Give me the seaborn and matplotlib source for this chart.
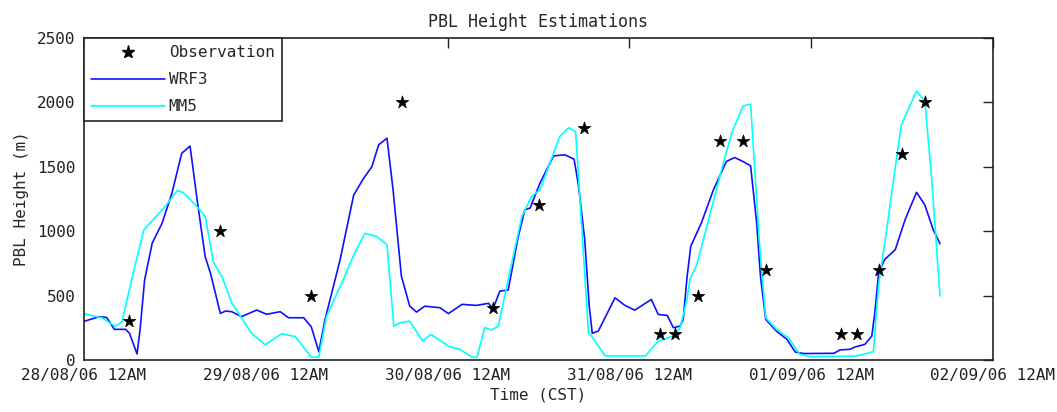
import matplotlib
matplotlib.use("Agg")
import matplotlib.pyplot as plt
import seaborn as sns
import pandas as pd
from matplotlib.lines import Line2D

# ---- data (hours since 28/08/06 00:00 CST) ----
obs_hours = [6, 18, 30, 42, 54, 60, 66, 76, 78, 81, 84, 87, 90, 100, 102, 105, 108, 111]
obs_vals = [300, 1000, 500, 2000, 400, 1200, 1800, 200, 200, 500, 1700, 1700, 700, 200, 200, 700, 1600, 2000]

wrf_hours = [0, 2, 3, 4, 5.5, 6, 7, 7.4, 8, 9, 10.3, 11.6, 12.9, 14, 15, 16, 16.7, 18, 18.7,
             19.5, 20.8, 22.8, 24.1, 25.9, 27, 29, 30, 31, 31.8, 33.8, 35.6, 36.9, 38, 38.9,
             40, 40.8, 41.9, 43, 43.9, 45, 47, 48.1, 49.9, 51.8, 53.4, 54, 54.9, 56, 57.3,
             58.2, 58.9, 60.2, 62, 63.5, 64.7, 65.3, 66.1, 66.7, 67.1, 67.9, 70.1, 71.4,
             72.7, 74.9, 75.8, 77, 77.8, 78.7, 79.1, 79.6, 80.1, 81.5, 83.1, 84.8, 85.9,
             87, 88, 88.8, 89.3, 90, 91.4, 92.8, 93.9, 95, 99, 99.8, 101.1, 101.8, 103.1,
             104, 104.4, 104.9, 105.7, 107.1, 108.4, 109.9, 111, 112.1, 113]
wrf_vals = [300, 336, 330, 238, 238, 207, 47, 233, 621, 906, 1061, 1294, 1605, 1661, 1216,
            802, 673, 362, 380, 375, 337, 388, 355, 375, 328, 328, 258, 64, 310, 776, 1280,
            1410, 1500, 1671, 1722, 1322, 651, 418, 372, 418, 406, 360, 432, 424, 440, 398,
            535, 543, 950, 1167, 1180, 1374, 1585, 1593, 1559, 1347, 935, 418, 207, 225,
            483, 424, 387, 470, 354, 346, 251, 263, 315, 638, 883, 1064, 1322, 1541, 1572,
            1541, 1508, 1064, 651, 315, 225, 160, 62, 50, 52, 78, 83, 101, 122, 186, 367,
            677, 780, 857, 1090, 1302, 1205, 1012, 903]

mm5_hours = [0, 2.4, 4.1, 5, 6.6, 7.9, 10.7, 12.3, 13.1, 14.7, 16, 17.1, 18.2, 19.5, 20.4,
             22.1, 23.9, 26.1, 27.9, 30, 31, 32, 34.2, 35.8, 37.1, 38.6, 40, 40.9, 41.7, 43,
             44.7, 45.8, 48.1, 49.6, 51.2, 51.9, 52.9, 53.8, 54.7, 56, 57.8, 59.1, 60.2,
             62.8, 64, 64.9, 66.6, 67, 68.8, 74.1, 75.8, 77.8, 78.7, 79.6, 80, 80.9, 84.4,
             85.5, 87, 88, 89.2, 90, 91.4, 93, 94.5, 95.8, 101.8, 102.9, 104.2, 104.9, 106,
             106.9, 107.9, 109.9, 111, 111.9, 113]
mm5_vals = [359, 327, 262, 294, 701, 1010, 1191, 1315, 1300, 1205, 1115, 754, 650, 444, 364,
            209, 118, 203, 182, 23, 23, 337, 620, 840, 983, 960, 896, 263, 289, 302, 147,
            199, 108, 83, 23, 23, 251, 233, 263, 625, 1115, 1270, 1322, 1735, 1804, 1773,
            212, 186, 31, 31, 147, 186, 251, 470, 625, 741, 1528, 1760, 1972, 1987, 883,
            328, 238, 173, 44, 26, 30, 44, 65, 583, 1025, 1413, 1825, 2089, 2011, 1413, 497]

tick_hours = [0, 24, 48, 72, 96, 120]
tick_labels = ["28/08/06 12AM", "29/08/06 12AM", "30/08/06 12AM",
               "31/08/06 12AM", "01/09/06 12AM", "02/09/06 12AM"]
y_ticks = [0, 500, 1000, 1500, 2000, 2500]

# ---- plot ----
sns.set_style("white")
plt.rcParams["font.family"] = ["DejaVu Sans Mono", "DejaVu Sans"]
plt.rcParams["font.size"] = 11.5

fig = plt.figure(figsize=(10.57, 4.12), dpi=100)
ax = fig.add_axes([84 / 1057, 1 - 360 / 412, (993 - 84) / 1057, (360 - 38) / 412])

obs_df = pd.DataFrame({"hour": obs_hours, "value": obs_vals})
wrf_df = pd.DataFrame({"hour": wrf_hours, "value": wrf_vals})
mm5_df = pd.DataFrame({"hour": mm5_hours, "value": mm5_vals})

blue = "#1010ff"
cyan = "#00ffff"

sns.lineplot(data=wrf_df, x="hour", y="value", ax=ax, color=blue, lw=1.2,
             estimator=None, sort=False, zorder=2)
sns.lineplot(data=mm5_df, x="hour", y="value", ax=ax, color=cyan, lw=1.2,
             estimator=None, sort=False, zorder=2)
sns.scatterplot(data=obs_df, x="hour", y="value", ax=ax, marker="*", s=90,
                color="black", edgecolor="black", linewidth=0.5, zorder=3)

ax.set_xlim(0, 120)
ax.set_ylim(0, 2500)
ax.set_xticks(tick_hours)
ax.set_xticklabels(tick_labels)
ax.set_yticks(y_ticks)
ax.tick_params(direction="in", length=7, width=1, top=True, right=True,
               labelsize=11.5, colors="#222222", pad=6)
for sp in ax.spines.values():
    sp.set_color("#222222")
    sp.set_linewidth(1.2)

ax.set_title("PBL Height Estimations", fontsize=12, pad=8)
ax.set_xlabel("Time (CST)", fontsize=11.5, labelpad=3)
ax.set_ylabel("PBL Height (m)", fontsize=11.5, labelpad=6)

handles = [
    Line2D([], [], color="black", marker="*", ls="none", markersize=9.5),
    Line2D([], [], color=blue, lw=1.2),
    Line2D([], [], color=cyan, lw=1.2),
]
leg = ax.legend(handles, ["Observation", "WRF3", "MM5"], loc="upper left",
                borderaxespad=0, fancybox=False, framealpha=1, edgecolor="#222222",
                fontsize=11.5, handlelength=4.6, handletextpad=0.25, labelspacing=0.75,
                borderpad=0.45)
leg.get_frame().set_linewidth(1.2)

fig.savefig("out.png", dpi=100)
